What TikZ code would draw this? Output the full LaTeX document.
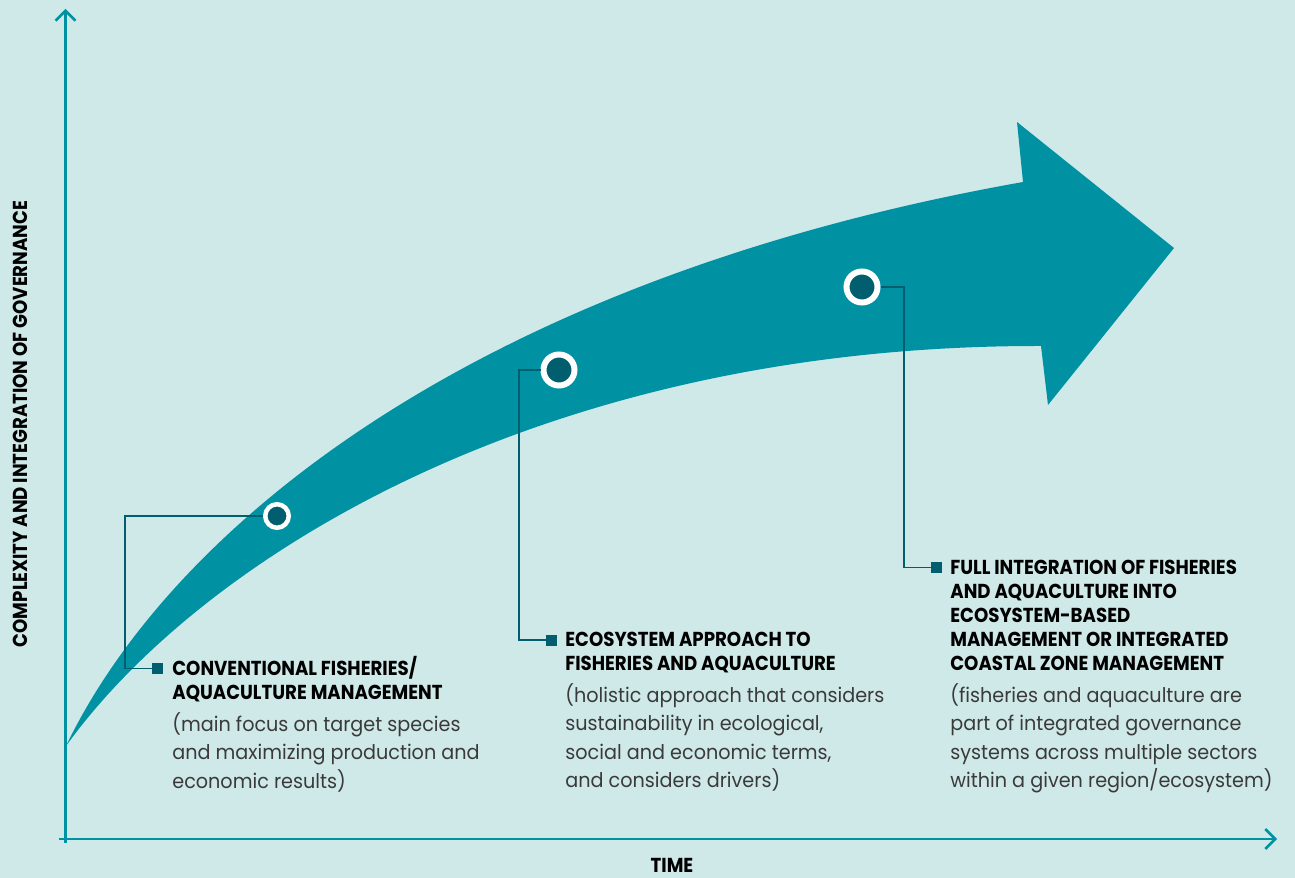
\documentclass[tikz,border=0pt]{standalone}
\usepackage{fontspec}
\setmainfont{Poppins}[FakeStretch=0.95]
\newfontfamily\headfont{Poppins}[FakeStretch=0.9]
\usetikzlibrary{positioning,arrows.meta}
\definecolor{bgcol}{HTML}{CFE9E9}
\definecolor{bandcol}{HTML}{0092A3}
\definecolor{darkcol}{HTML}{005E6E}
\definecolor{textcol}{HTML}{3A3A3A}
\tikzset{
  axisline/.style={-{Straight Barb[length=5.6pt, width=11.4pt]}, line width=1.5pt, bandcol},
  band/.style={fill=bandcol},
  stagedot/.style={circle, draw=white, fill=darkcol, line width=0.12cm, minimum size=0.62cm, inner sep=0pt},
  smalldot/.style={stagedot, line width=0.09cm, minimum size=0.47cm},
  marker/.style={rectangle, fill=darkcol, minimum size=0.22cm, inner sep=0pt},
  leader/.style={draw=darkcol, line width=0.6pt},
  headtext/.style={anchor=base west, inner sep=0pt, align=left, text=black, font=\headfont\bfseries\fontsize{11.5}{13.6}\selectfont},
  bodytext/.style={anchor=base west, inner sep=0pt, align=left, text=textcol, font=\fontsize{11.5}{16.2}\selectfont},
  axislabel/.style={inner sep=0pt, text=black, font=\headfont\bfseries\fontsize{11.5}{12}\selectfont}
}

\begin{document}
\begin{tikzpicture}[x=0.02cm, y=-0.02cm]
  \fill[bgcol] (0,0) rectangle (1295,878);
  \useasboundingbox (0,0) rectangle (1295,878);

  % growing arrow
  \fill[band] (66,746) .. controls (170,530) and (470,280) .. (1023,182)
    -- (1017,122) -- (1174,248) -- (1048,405) -- (1041,346)
    .. controls (540,345) and (200,560) .. (66,746) -- cycle;

  % axes
  \coordinate (yfoot) at (65.5,843);
  \coordinate (ytop) at (65.5,9);
  \coordinate (xfoot) at (59,839);
  \coordinate (xend) at (1277,839);
  \draw[axisline] (yfoot) -- (ytop);
  \draw[axisline] (xfoot) -- (xend);
  \node[axislabel] (tlabel) at (672,865) {TIME};
  \node[axislabel, rotate=90] (glabel) at (20,424) {COMPLEXITY AND INTEGRATION OF GOVERNANCE};

  % stages
  \node[smalldot] (c1) at (277,516) {};
  \node[stagedot] (c2) at (559,370) {};
  \node[stagedot] (c3) at (862,287) {};

  \node[marker] (m1) at (157.5,668.5) {};
  \node[marker] (m2) at (551.5,640) {};
  \node[marker] (m3) at (936.5,567.5) {};

  \coordinate (k1) at (125,668.5);
  \coordinate (k2) at (519,640);
  \coordinate (k3) at (904,567.5);
  \draw[leader] (c1.west) -| (k1) -- (m1.west);
  \draw[leader] (c2.west) -| (k2) -- (m2.west);
  \draw[leader] (c3.east) -| (k3) -- (m3.west);

  % last line of each text sits on the given base
  \node[headtext] (hd1) at (172,699.5) {CONVENTIONAL FISHERIES/\\AQUACULTURE MANAGEMENT};
  \node[bodytext] (bd1) at (172,788) {(main focus on target species\\and maximizing production and\\economic results)};

  \node[headtext] (hd2) at (565,670.5) {ECOSYSTEM APPROACH TO\\FISHERIES AND AQUACULTURE};
  \node[bodytext] (bd2) at (565,787.5) {(holistic approach that considers\\sustainability in ecological,\\social and economic terms,\\and considers drivers)};

  \node[headtext] (hd3) at (950,670) {FULL INTEGRATION OF FISHERIES\\AND AQUACULTURE INTO\\ECOSYSTEM-BASED\\MANAGEMENT OR INTEGRATED\\COASTAL ZONE MANAGEMENT};
  \node[bodytext] (bd3) at (950,787.5) {(fisheries and aquaculture are\\part of integrated governance\\systems across multiple sectors\\within a given region/ecosystem)};
\end{tikzpicture}
\end{document}
